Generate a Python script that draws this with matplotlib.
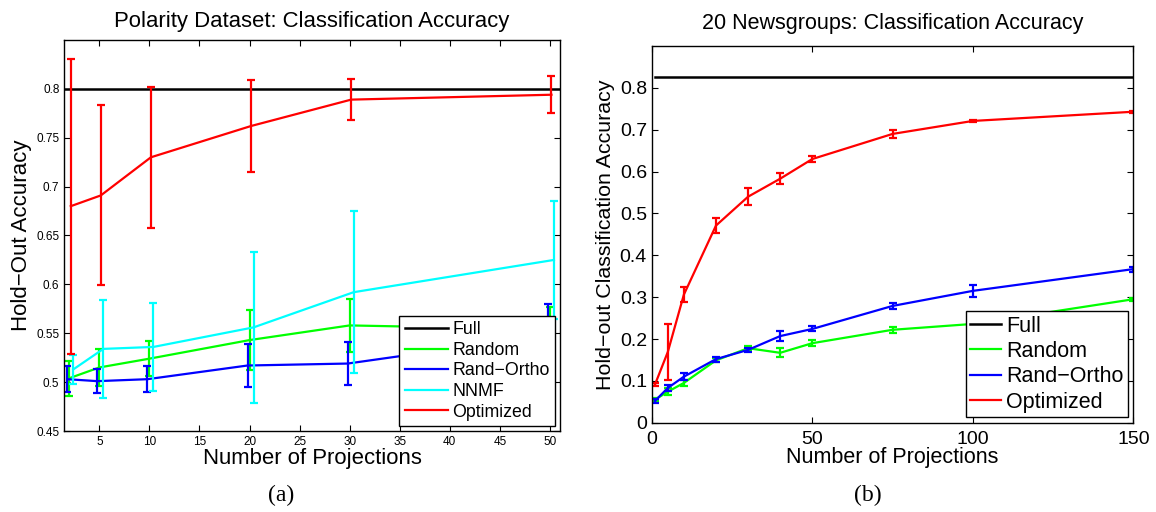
import matplotlib
matplotlib.use("Agg")
import matplotlib.pyplot as plt
import numpy as np

plt.rcParams['font.family'] = ['Liberation Sans', 'DejaVu Sans']

# (a) polarity dataset
pol_proj = [2, 5, 10, 20, 30, 50]
pol_full = 0.8
pol_random = [0.504, 0.515, 0.524, 0.543, 0.558, 0.554]
pol_random_err = [0.018, 0.019, 0.018, 0.031, 0.027, 0.023]
pol_ortho = [0.503, 0.501, 0.503, 0.517, 0.519, 0.548]
pol_ortho_err = [0.013, 0.012, 0.013, 0.022, 0.022, 0.032]
pol_nnmf = [0.513, 0.534, 0.536, 0.556, 0.592, 0.625]
pol_nnmf_err = [0.015, 0.050, 0.045, 0.077, 0.083, 0.060]
pol_opt = [0.680, 0.691, 0.730, 0.762, 0.789, 0.794]
pol_opt_err = [0.151, 0.092, 0.072, 0.047, 0.021, 0.019]

# (b) 20 newsgroups
ng_proj = [1, 5, 10, 20, 30, 40, 50, 75, 100, 150]
ng_full = 0.8255
ng_random = [0.055, 0.074, 0.095, 0.149, 0.178, 0.167, 0.190, 0.222, 0.236, 0.295]
ng_random_err = [0.004, 0.008, 0.008, 0.005, 0.006, 0.011, 0.007, 0.007, 0.006, 0.004]
ng_ortho = [0.052, 0.083, 0.110, 0.152, 0.174, 0.207, 0.224, 0.279, 0.315, 0.367]
ng_ortho_err = [0.005, 0.008, 0.008, 0.006, 0.005, 0.011, 0.006, 0.007, 0.014, 0.006]
ng_opt = [0.091, 0.169, 0.306, 0.471, 0.540, 0.583, 0.630, 0.690, 0.721, 0.743]
ng_opt_err = [0.004, 0.067, 0.018, 0.018, 0.020, 0.013, 0.008, 0.010, 0.002, 0.002]

fig = plt.figure(figsize=(11.56, 5.12), dpi=100)

def series(ax, x, y, err, col, lab, cap):
    ax.plot(x, y, color=col, lw=1.6, label=lab)
    ax.errorbar(x, y, yerr=err, fmt='none', ecolor=col, elinewidth=1.6,
                capsize=cap, capthick=1.6)

def box_ticks(ax):
    ax.tick_params(direction='in', top=True, right=True, length=4, width=0.8)
    for s in ax.spines.values():
        s.set_linewidth(1.0)

# ---- left
ax1 = fig.add_axes([0.0556, 0.1582, 0.4288, 0.7637])
x = np.array(pol_proj)
ax1.plot([1.5, 51], [pol_full, pol_full], color='k', lw=1.8, label='Full')
series(ax1, x, pol_random, pol_random_err, (0, 1, 0), 'Random', 3)
series(ax1, x - 0.2, pol_ortho, pol_ortho_err, (0, 0, 1), 'Rand\u2212Ortho', 3)
series(ax1, x + 0.4, pol_nnmf, pol_nnmf_err, (0, 1, 1), 'NNMF', 3)
series(ax1, x + 0.15, pol_opt, pol_opt_err, (1, 0, 0), 'Optimized', 3)
ax1.set_xlim(1.5, 51)
ax1.set_ylim(0.45, 0.85)
ax1.set_xticks(np.arange(5, 51, 5))
ax1.set_yticks(np.arange(0.45, 0.801, 0.05))
ax1.set_yticklabels(['0.45', '0.5', '0.55', '0.6', '0.65', '0.7', '0.75', '0.8'])
ax1.tick_params(labelsize=8.5)
box_ticks(ax1)
ax1.set_title('Polarity Dataset: Classification Accuracy', fontsize=15.9, pad=9)
ax1.set_xlabel('Number of Projections', fontsize=15.9, labelpad=0)
ax1.set_ylabel('Hold\u2212Out Accuracy', fontsize=16, labelpad=3)
leg = ax1.legend(loc='lower right', bbox_to_anchor=(0.9905, 0.013), fontsize=12.8,
                 fancybox=False, edgecolor='k', framealpha=1, handlelength=2.45,
                 borderpad=0.3, labelspacing=0.2, handletextpad=0.25, borderaxespad=0)
leg.get_frame().set_linewidth(1.0)

# ---- right
ax2 = fig.add_axes([0.5638, 0.1744, 0.4166, 0.7357])
ax2.plot([1, 150], [ng_full, ng_full], color='k', lw=1.8, label='Full')
series(ax2, ng_proj, ng_random, ng_random_err, (0, 1, 0), 'Random', 3)
series(ax2, ng_proj, ng_ortho, ng_ortho_err, (0, 0, 1), 'Rand\u2212Ortho', 3)
series(ax2, ng_proj, ng_opt, ng_opt_err, (1, 0, 0), 'Optimized', 3)
ax2.set_xlim(0, 150)
ax2.set_ylim(0, 0.9)
ax2.set_xticks([0, 50, 100, 150])
ax2.set_yticks(np.arange(0, 0.81, 0.1))
ax2.set_yticklabels(['0', '0.1', '0.2', '0.3', '0.4', '0.5', '0.6', '0.7', '0.8'])
ax2.tick_params(labelsize=14)
ax2.tick_params(axis='x', pad=6)
box_ticks(ax2)
ax2.set_title('20 Newsgroups: Classification Accuracy', fontsize=15.5, pad=12)
ax2.set_xlabel('Number of Projections', fontsize=15.5, labelpad=-1)
ax2.set_ylabel('Hold\u2212out Classification Accuracy', fontsize=15.4, labelpad=3)
leg2 = ax2.legend(loc='lower right', bbox_to_anchor=(0.9896, 0.0143), fontsize=15.5,
                  fancybox=False, edgecolor='k', framealpha=1, handlelength=1.42,
                  borderpad=0.22, labelspacing=0.2, handletextpad=0.25, borderaxespad=0)
leg2.get_frame().set_linewidth(1.0)

fig.text(0.2435, 0.022, '(a)', fontsize=17, family=['Liberation Serif'], ha='center')
fig.text(0.7509, 0.022, '(b)', fontsize=17, family=['Liberation Serif'], ha='center')

fig.savefig('out.png', dpi=100)
